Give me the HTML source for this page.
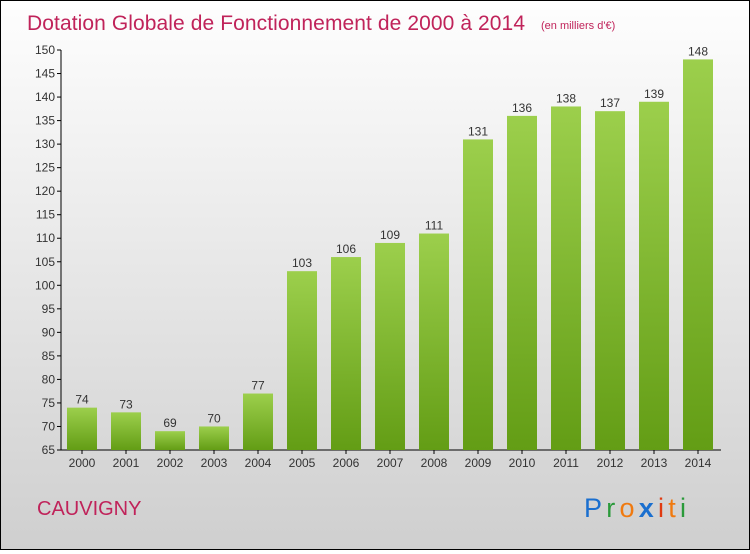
<!DOCTYPE html>
<html><head><meta charset="utf-8"><style>
html,body{margin:0;padding:0}
body{width:750px;height:550px;overflow:hidden}
#c{position:absolute;left:0;top:0;width:748px;height:548px;border:1px solid #000;background:linear-gradient(#fefefe,#cfcfcf);font-family:"Liberation Sans",sans-serif}
</style></head><body>
<div id="c">
<svg id="s" width="748" height="548" xmlns="http://www.w3.org/2000/svg">
<defs><linearGradient id="g" x1="0" y1="0" x2="0" y2="1"><stop offset="0" stop-color="#9ccf4c"/><stop offset="1" stop-color="#639d15"/></linearGradient></defs>
<text x="26" y="29" font-size="21" fill="#c0235a" textLength="498">Dotation Globale de Fonctionnement de 2000 à 2014</text>
<text x="540" y="28" font-size="11" fill="#c0235a">(en milliers d'€)</text>
<text x="36" y="514" font-size="20" fill="#c0235a">CAUVIGNY</text>
<g font-size="27" font-family="'Liberation Sans',sans-serif">
<text x="583" y="516" textLength="102"><tspan fill="#1a6fcf">P</tspan><tspan fill="#2a9a3a">r</tspan><tspan fill="#f07a10">o</tspan><tspan fill="#1a6fcf" font-weight="bold">x</tspan><tspan fill="#e03a10">i</tspan><tspan fill="#f07a10">t</tspan><tspan fill="#2a9a3a">i</tspan></text></g>
<g id="ax"></g><g id="bars"></g>
</svg></div>
<script>
const years=["2000","2001","2002","2003","2004","2005","2006","2007","2008","2009","2010","2011","2012","2013","2014"];
const values=[74,73,69,70,77,103,106,109,111,131,136,138,137,139,148];
const yTicks=[65,70,75,80,85,90,95,100,105,110,115,120,125,130,135,140,145,150];
const NS="http://www.w3.org/2000/svg";
const y=v=>449-(v-65)*400/85;
const xc=i=>81+i*44;
const ax=document.getElementById('ax'),bars=document.getElementById('bars');
function mk(t,a,p){const e=document.createElementNS(NS,t);for(const k in a)e.setAttribute(k,a[k]);p.appendChild(e);return e;}
let l=mk('line',{x1:60,y1:49,x2:60,y2:449,stroke:'#000'},ax);


l=mk('line',{x1:60,y1:449,x2:720,y2:449,stroke:'#000'},ax);


yTicks.forEach(v=>{
 const t=mk('line',{x1:56,x2:60,y1:y(v),y2:y(v),stroke:'#000'},ax);
 
 
 const tx=mk('text',{x:54,y:y(v)+4,'font-size':12,'text-anchor':'end',fill:'#333'},ax);tx.textContent=v;
 
 
});
years.forEach((yr,i)=>{
 const t=mk('line',{x1:xc(i),x2:xc(i),y1:449,y2:453,stroke:'#000'},ax);
 
 
 const tx=mk('text',{x:xc(i),y:466,'font-size':12,'text-anchor':'middle',fill:'#333'},ax);tx.textContent=yr;
 
 
 const v=values[i];
 const r=mk('rect',{x:xc(i)-15,y:y(v),width:30,height:449-y(v),fill:'url(#g)'},bars);
 
 
 const vl=mk('text',{x:xc(i),y:y(v)-4,'font-size':12,'text-anchor':'middle',fill:'#333'},bars);vl.textContent=v;
 
 
});
</script>
</body></html>
